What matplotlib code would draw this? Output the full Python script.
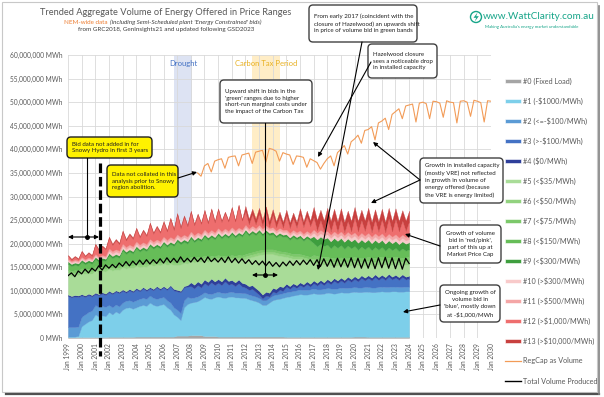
import numpy as np
import matplotlib.pyplot as plt
from matplotlib.patches import FancyBboxPatch, Rectangle, Circle, Polygon

plt.rcParams['font.family'] = ['Lato', 'DejaVu Sans']

# ---- data (millions of MWh) ----
# quarterly samples, Jan 1999 .. Jan 2024 (band tops)
lightblue_top = [0.3, 0.3, 0.3, 0.4, 2.5, 3.0, 3.5, 3.8, 5.0, 4.5, 4.8, 4.6, 5.5, 5.0, 5.6, 5.2,
                 6.0, 6.4, 6.5, 6.2, 6.5, 6.8, 7.0, 6.8, 7.5, 7.0, 6.8, 7.0, 7.2, 6.5, 6.0, 5.0,
                 4.5, 3.8, 6.5, 7.2, 7.5, 7.6, 7.8, 8.2, 8.7, 8.4, 8.3, 8.6, 8.8, 8.6, 8.5, 8.7,
                 8.8, 8.6, 8.6, 8.5, 8.5, 8.2, 8.0, 7.8, 7.5, 7.0, 7.0, 7.5, 8.0, 8.2, 8.3, 8.5,
                 8.7, 8.8, 9.0, 9.1, 9.3, 9.2, 9.2, 9.3, 9.5, 9.3, 9.3, 9.4, 9.6, 9.5, 9.4, 9.5,
                 9.7, 9.6, 9.6, 9.7, 9.8, 9.7, 9.7, 9.8, 9.8, 9.7, 9.7, 9.8, 9.9, 9.8, 9.8, 9.9,
                 9.9, 9.8, 9.8, 9.9, 9.9]
blue_top = [9.2, 8.9, 9.1, 9.0, 9.3, 9.0, 9.4, 9.1, 9.6, 9.3, 9.7, 9.4, 10.0, 9.6, 10.1, 9.8,
            10.3, 9.9, 10.4, 10.0, 10.6, 10.2, 10.8, 10.3, 10.8, 10.4, 11.0, 10.5, 11.0, 10.5, 11.2, 10.4,
            10.2, 10.0, 11.0, 11.2, 11.8, 11.3, 12.0, 11.5, 12.4, 11.9, 12.6, 12.0, 12.5, 12.0, 12.8, 12.1,
            12.3, 11.8, 12.4, 11.7, 11.5, 11.0, 11.2, 10.6, 10.0, 9.2, 9.8, 9.6, 10.6, 10.4, 11.0, 10.8,
            11.5, 11.0, 11.6, 11.2, 11.8, 11.4, 12.0, 11.5, 12.2, 11.7, 12.3, 11.8, 12.5, 12.0, 12.7, 12.2,
            12.8, 12.3, 13.0, 12.5, 13.1, 12.6, 13.3, 12.8, 13.3, 12.8, 13.5, 12.9, 13.4, 12.9, 13.6, 13.0,
            13.4, 12.9, 13.5, 13.0, 13.2]
lightgreen_top = [13.5, 13.2, 13.4, 13.3, 13.8, 13.6, 13.7, 13.6, 14.3, 14.0, 14.2, 14.1, 14.6, 14.3, 14.5, 14.4,
                  15.0, 14.7, 14.9, 14.8, 15.3, 15.0, 15.2, 15.1, 15.6, 15.3, 15.5, 15.4, 15.8, 15.5, 15.7, 15.5,
                  15.5, 15.6, 15.9, 15.8, 16.3, 16.0, 16.2, 16.1, 16.5, 16.2, 16.4, 16.3, 16.6, 16.3, 16.5, 16.4,
                  16.6, 16.4, 16.6, 16.5, 16.8, 17.0, 17.2, 17.4, 17.6, 17.7, 17.8, 17.8, 17.8, 17.6, 17.4, 17.3,
                  17.2, 17.0, 16.8, 16.8, 16.8, 16.6, 16.4, 16.2, 16.0, 15.8, 15.6, 15.6, 15.6, 15.4, 15.3, 15.4,
                  15.5, 15.3, 15.3, 15.4, 15.6, 15.4, 15.3, 15.4, 15.6, 15.4, 15.4, 15.5, 15.7, 15.5, 15.4, 15.5,
                  15.7, 15.5, 15.4, 15.5, 15.6]
green_top = [16.2, 15.7, 16.0, 15.8, 16.6, 16.1, 16.5, 16.2, 17.2, 16.6, 17.0, 16.8, 18.0, 17.4, 17.8, 17.5,
             19.0, 18.3, 18.8, 18.4, 19.5, 18.8, 19.3, 18.9, 20.0, 19.4, 19.9, 19.5, 20.5, 19.8, 20.4, 20.0,
             21.0, 20.4, 20.9, 20.5, 21.6, 20.8, 21.4, 21.0, 22.0, 21.3, 21.9, 21.4, 22.3, 21.6, 22.2, 21.7,
             22.5, 21.8, 22.4, 22.0, 23.0, 22.2, 22.8, 22.3, 23.0, 22.2, 22.9, 22.3, 22.5, 21.8, 22.3, 21.9,
             22.0, 21.3, 21.9, 21.4, 21.8, 21.1, 21.7, 21.2, 21.6, 20.9, 21.5, 21.0, 21.3, 20.5, 21.2, 20.6,
             21.2, 20.4, 21.1, 20.5, 21.0, 20.2, 20.9, 20.3, 20.9, 20.1, 20.8, 20.2, 20.8, 20.0, 20.7, 20.1,
             20.6, 19.9, 20.5, 20.0, 20.3]
red_top = [17.6, 16.8, 17.4, 16.9, 18.5, 17.5, 18.2, 17.6, 20.0, 18.8, 19.6, 19.0, 21.5, 20.0, 21.0, 20.2,
           22.8, 21.0, 22.2, 21.3, 23.4, 21.6, 23.0, 21.9, 24.5, 22.4, 23.8, 22.6, 24.8, 22.9, 25.5, 23.2,
           26.5, 23.6, 26.0, 24.0, 27.0, 24.2, 26.4, 24.5, 27.2, 24.6, 27.5, 24.8, 27.5, 24.9, 26.8, 25.0,
           27.8, 25.0, 28.3, 25.2, 28.0, 25.3, 27.4, 25.3, 27.6, 25.0, 27.9, 24.8, 27.3, 24.7, 26.8, 24.6,
           27.2, 24.5, 26.6, 24.6, 27.5, 24.7, 27.0, 24.9, 27.8, 25.0, 27.2, 24.9, 27.6, 24.8, 27.4, 24.7,
           27.5, 24.6, 27.0, 24.8, 27.8, 24.8, 27.2, 24.9, 27.6, 24.6, 27.3, 24.7, 27.4, 24.6, 27.6, 24.8,
           27.5, 24.8, 27.1, 24.9, 27.0]

# yearly thickness of the thinner bands, 1999 .. 2024
grey_thk = [0.2, 0.2, 0.2, 0.25, 0.25, 0.3, 0.3, 0.3, 0.5, 0.6, 0.4, 0.3, 0.3,
            0.3, 0.3, 0.3, 0.25, 0.25, 0.25, 0.25, 0.25, 0.3, 0.25, 0.25, 0.25, 0.25]
band2_thk = [2.0, 2.0, 2.0, 1.5, 1.5, 1.5, 1.5, 1.5, 1.5] + [1.0] * 17
navy_thk = [0.3] * 9 + [0.8] * 7 + [0.6] * 10
g6_thk = [0.5] * 18 + [0.8] * 8
g7_thk = [0.5] * 18 + [0.8] * 8
dkgreen_thk = [0.5] * 18 + [1.5] * 8
p10_thk = [0.3] * 3 + [0.5] * 15 + [0.7] * 8
p11_thk = [0.3] * 3 + [0.5] * 15 + [0.7] * 8
dkred_thk = [0.2] * 3 + [0.3] * 10 + [1.2] * 5 + [2.2] * 8

# quarterly total volume produced, Jan 1999 .. Jan 2024
total_produced = [13.2, 13.8, 13.0, 14.2, 13.6, 14.6, 13.8, 14.8, 14.2, 15.3, 14.4, 15.5,
                  14.8, 15.6, 14.9, 15.9, 15.2, 16.2, 15.3, 16.3, 15.5, 16.5, 15.6, 16.6,
                  15.7, 16.6, 15.8, 16.8, 15.9, 17.0, 16.0, 16.9, 16.0, 17.2, 16.1, 16.9,
                  16.1, 17.1, 16.2, 17.0, 16.0, 17.2, 16.2, 16.9, 16.1, 17.0, 16.0, 17.2,
                  16.0, 16.9, 15.9, 16.8, 15.8, 16.6, 15.6, 16.4, 15.5, 16.3, 15.3, 16.2,
                  15.2, 16.0, 15.1, 16.1, 15.3, 16.3, 15.4, 16.4, 15.5, 16.5, 15.6, 16.6,
                  15.4, 16.6, 15.2, 16.8, 15.2, 16.7, 15.0, 16.9, 15.1, 16.8, 15.0, 17.0,
                  14.9, 16.9, 14.8, 16.8, 14.8, 16.9, 14.7, 17.0, 14.9, 17.1, 14.8, 17.0,
                  14.7, 16.9, 14.6, 16.9, 15.8]

# quarterly RegCap, Jul 2008 .. Jan 2030
regcap = [35.0, 34.3,
          36.5, 37.0, 35.2, 37.5, 37.8, 38.0, 36.0, 38.3, 38.5, 38.6, 36.5, 38.8,
          39.0, 39.2, 37.0, 39.4, 39.6, 39.8, 37.3, 40.2, 40.0, 39.6, 37.5, 39.3,
          39.0, 38.8, 36.8, 38.6, 38.5, 38.3, 36.2, 38.0, 37.6, 37.2, 35.8, 37.0,
          38.0, 38.6, 36.5, 39.3, 40.0, 40.8, 39.0, 41.6, 42.2, 43.0, 41.3, 44.0,
          44.2, 44.8, 42.0, 45.6, 46.0, 46.6, 44.2, 47.4, 48.0, 48.6, 46.5, 49.2,
          49.4, 49.6, 45.8, 49.8, 50.0, 49.7, 46.5, 50.2, 50.1, 49.8, 46.8, 50.3,
          50.0, 49.9, 45.6, 50.2, 50.3, 50.0, 47.0, 50.4, 50.2, 49.9, 45.8, 50.3,
          50.2]

labels = ['#0 (Fixed Load)', '#1 (-\\$1000/MWh)', '#2 (<=-\\$100/MWh)', '#3 (>-\\$100/MWh)',
          '#4 (\\$0/MWh)', '#5 (<\\$35/MWh)', '#6 (<\\$50/MWh)', '#7 (<\\$75/MWh)',
          '#8 (<\\$150/MWh)', '#9 (<\\$300/MWh)', '#10 (>\\$300/MWh)', '#11 (>\\$500/MWh)',
          '#12 (>\\$1,000/MWh)', '#13 (>\\$10,000/MWh)']
colors = ['#A5A5A5', '#7DCFEA', '#5B9BD5', '#4472C4', '#2E3F9A', '#A9DC98', '#92D27F',
          '#7CC86A', '#66BD58', '#3E9E3E', '#F8CACA', '#F4A6A6', '#EE6E6E', '#C8403F']

# ---- build band boundaries ----
t = 1999 + 0.25 * np.arange(len(red_top))
quarter = lambda a: np.repeat(np.array(a, float), 4)[:len(t)]
b1 = np.array(lightblue_top)
b4 = np.array(blue_top)
b5 = np.array(lightgreen_top)
b9 = np.array(green_top)
b13 = np.array(red_top)
bounds = [np.zeros(len(t)), quarter(grey_thk), b1, b1 + quarter(band2_thk), b4 - quarter(navy_thk), b4,
          b5, b5 + quarter(g6_thk), b5 + quarter(g6_thk) + quarter(g7_thk), b9 - quarter(dkgreen_thk), b9,
          b9 + quarter(p10_thk), b9 + quarter(p10_thk) + quarter(p11_thk), b13 - quarter(dkred_thk), b13]

fig = plt.figure(figsize=(6.04, 3.97), dpi=100)
W, H = 604, 397
ax = fig.add_axes([68 / W, 1 - 338 / H, (491 - 68) / W, (338 - 55) / H])

ax.axvspan(2006.75, 2008.1, color='#D5DDF0', alpha=0.8, lw=0, zorder=0.5)
ax.axvspan(2012.5, 2014.5, color='#FFE9B8', alpha=0.8, lw=0, zorder=0.5)

for i in range(14):
    ax.fill_between(t, bounds[i], bounds[i + 1], color=colors[i], lw=0.2, zorder=2)

t_q = 1999 + 0.25 * np.arange(len(total_produced))
ax.plot(t_q, total_produced, color='black', lw=0.9, zorder=4)
t_r = 2008.5 + 0.25 * np.arange(len(regcap))
ax.plot(t_r, regcap, color='#F29B57', lw=0.8, zorder=4)

ax.set_xlim(1999, 2030)
ax.set_ylim(0, 60)
ax.set_yticks(range(0, 61, 5))
ax.set_yticklabels([f'{v * 1000000:,} MWh' for v in range(0, 61, 5)])
ax.set_xticks(range(1999, 2031))
ax.set_xticklabels([f'Jan {y}' for y in range(1999, 2031)], rotation=90)
ax.tick_params(length=0, labelsize=4.8, colors='#595959', pad=4)
ax.grid(True, color='#D9D9D9', lw=0.6)
ax.set_axisbelow(True)
for s in ax.spines.values():
    s.set_visible(False)

ax.text(2007.45, 59, 'Drought', color='#4472C4', fontsize=5.5, ha='center', va='top', zorder=5)
ax.text(2013.5, 59, 'Carbon Tax Period', color='#E8B020', fontsize=5.5, ha='center', va='top', zorder=5)

# ---- overlay in pixel coordinates for frame, titles, notes, legend ----
ov = fig.add_axes([0, 0, 1, 1], zorder=5)
ov.set_xlim(0, W)
ov.set_ylim(H, 0)
ov.axis('off')

ov.add_patch(Rectangle((2, 2), 595, 390, fill=False, ec='#C8C8C8', lw=0.8))
ov.plot([6, 599], [393.5, 393.5], color='#505050', lw=1.6)
ov.plot([598.5, 598.5], [6, 393.5], color='#808080', lw=1.2)

ov.text(166, 12.5, 'Trended Aggregate Volume of Energy Offered in Price Ranges',
        ha='center', va='center', fontsize=6.7, color='#595959')
ov.text(108, 22.5, 'NEM-wide data', ha='right', va='center', fontsize=4.5, color='#ED7D31')
ov.text(109.5, 22.5, "(including Semi-Scheduled plant 'Energy Constrained' bids)", ha='left',
        va='center', fontsize=4.5, color='#404040', style='italic')
ov.text(166, 30, 'from GRC2018, GenInsights21 and updated following GSD2023', ha='center',
        va='center', fontsize=4.5, color='#404040')

teal = '#17A589'
ov.add_patch(Circle((476, 17), 5.5, fill=False, ec=teal, lw=1.0))
ov.add_patch(Polygon([(477.5, 12.5), (473.5, 17.8), (476.2, 17.8), (474.8, 21.5), (478.8, 16.2),
                      (476.2, 16.2)], closed=True, fc=teal, ec='none'))
ov.text(483, 16.5, 'www.WattClarity.com.au', ha='left', va='center', fontsize=7.2, color=teal)
ov.text(485, 27, "Making Australia's energy market understandable", ha='left', va='center',
        fontsize=3.2, color=teal)


def box(x0, y0, x1, y1, text, fc='white', ec='#404040', ha='left', fs=4.4):
    ov.add_patch(FancyBboxPatch((x0, y0), x1 - x0, y1 - y0,
                                boxstyle='round,pad=0,rounding_size=4', fc=fc, ec=ec, lw=1.0))
    tx = x0 + 5 if ha == 'left' else (x0 + x1) / 2
    ov.text(tx, (y0 + y1) / 2, text, ha=ha, va='center', fontsize=fs, color='#202020',
            linespacing=1.45)


def arrow(x0, y0, x1, y1, style='-|>'):
    ov.annotate('', xy=(x1, y1), xytext=(x0, y0),
                arrowprops=dict(arrowstyle=style, color='black', lw=0.8, mutation_scale=6,
                                shrinkA=0, shrinkB=0))


yellow = '#FFF200'
box(67, 137, 152, 158, 'Bid data not added in for\nSnowy Hydro in first 3 years', fc=yellow,
    ec='#202020')
ov.plot([87, 87], [158, 237], color='black', lw=0.8)
arrow(99, 237, 68, 237, style='<|-|>')
ov.plot(87, 237, 'o', color='black', ms=2.5)
ov.plot([100, 100], [163, 356], color='black', lw=2.3, linestyle=(0, (3, 1.2)))

box(107, 165, 178, 197, 'Data not collated in this\nanalysis prior to Snowy\nregion abolition.', fc=yellow,
    ec='#202020')
arrow(178, 178, 197, 172)

box(220, 80, 312, 123, "Upward shift in bids in the\n'green' ranges due to higher\n"
    "short-run marginal costs under\nthe impact of the Carbon Tax")
ov.plot([265, 265], [123, 275], color='black', lw=0.8)
arrow(252, 275, 278, 275, style='<|-|>')
ov.plot(265, 275, 'o', color='black', ms=2.5)

box(309, 5, 417, 42, 'From early 2017 (coincident with the\nclosure of Hazelwood) an upwards shift\n'
    'in price of volume bid in green bands')
arrow(362, 42, 318, 270)

box(368, 44, 437, 78, 'Hazelwood closure\nsees a noticeable drop\nin installed capacity')
arrow(371, 62, 318, 157)

box(420, 158, 503, 203, 'Growth in installed capacity\n(mostly VRE) not reflected\nin growth in volume of\n'
    'energy offered (because\nthe VRE is energy limited)')
arrow(420, 180, 373, 142)
arrow(420, 180, 371, 203)

box(440, 225, 501, 263, "Growth of volume\nbid in 'red/pink',\npart of this up at\nMarket Price Cap",
    ha='center')
arrow(440, 246, 405, 234)

box(440, 285, 500, 322, "Ongoing growth of\nvolume bid in\n'blue', mostly down\nat -\\$1,000/MWh",
    ha='center')
arrow(440, 305, 403, 312)

# legend
for i, (lab, c) in enumerate(zip(labels, colors)):
    y = 81 + 20 * i
    ov.add_patch(Rectangle((505, y - 2.2), 16, 4.4, fc=c, ec='white', lw=0.4))
    ov.text(523, y, lab, ha='left', va='center', fontsize=5.2, color='#595959')
ov.plot([505, 521], [361, 361], color='#F29B57', lw=0.9)
ov.text(523, 361, 'RegCap as Volume', ha='left', va='center', fontsize=5.2, color='#595959')
ov.plot([505, 521], [381, 381], color='black', lw=1.0)
ov.text(523, 381, 'Total Volume Produced', ha='left', va='center', fontsize=5.2, color='#595959')

fig.savefig('out.png', dpi=100)
